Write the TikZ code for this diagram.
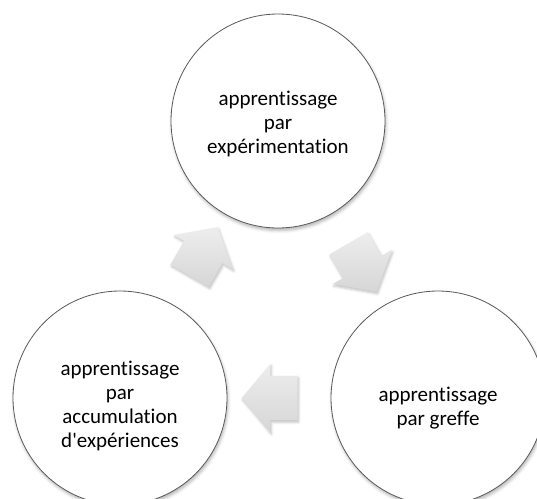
\documentclass[tikz,border=0pt]{standalone}
\usepackage{fontspec}
\setmainfont{Carlito}[Ligatures={NoCommon}]
\usepackage{xcolor}
\usepackage{tikz}
\usetikzlibrary{calc}
\usetikzlibrary{shapes.arrows,shadows.blur}

\tikzset{
	stage/.style={circle, draw=black!65, line width=0.8pt, fill=white, minimum size=214pt, inner sep=0pt,
		blur shadow={shadow xshift=1pt, shadow yshift=-2.5pt, shadow blur radius=3pt, shadow opacity=30}},
	stagetext/.style={align=center, font=\fontsize{21}{24}\selectfont},
	flow/.style={single arrow, draw=none, minimum height=56pt, inner xsep=0pt, inner ysep=22pt,
		single arrow head extend=12pt, single arrow tip angle=100,
		top color=black!7, bottom color=black!16,
		blur shadow={shadow xshift=1pt, shadow yshift=-2pt, shadow blur radius=2.5pt, shadow opacity=25}}
}

\begin{document}
\begin{tikzpicture}[x=1pt, y=1pt]
		\useasboundingbox (0,0) rectangle (537,-498);
		
		% the three stages
		\node[stage] (exper) at (278,-121) {};
		\node[stage] (greffe) at (438,-398) {};
		\node[stage] (accum) at (120,-398) {};
		
		\node[stagetext] at ([yshift=-3pt]exper.center) {apprentissage\\par\\expérimentation};
		\node[stagetext] at ([yshift=-10pt]greffe.center) {apprentissage\\par greffe};
		\node[stagetext] at ([yshift=-8pt]accum.center) {apprentissage\\par\\accumulation\\d\textquotesingle expériences};
		
		% arrows between them
		\node[flow, rotate=60] (up) at ($(accum)!0.5!(exper)$) {};
		\node[flow, rotate=-60] (down) at ($(exper)!0.5!(greffe)$) {};
		\node[flow, rotate=180] (back) at ($(greffe)!0.5!(accum)$) {};
	\end{tikzpicture}
\end{document}
